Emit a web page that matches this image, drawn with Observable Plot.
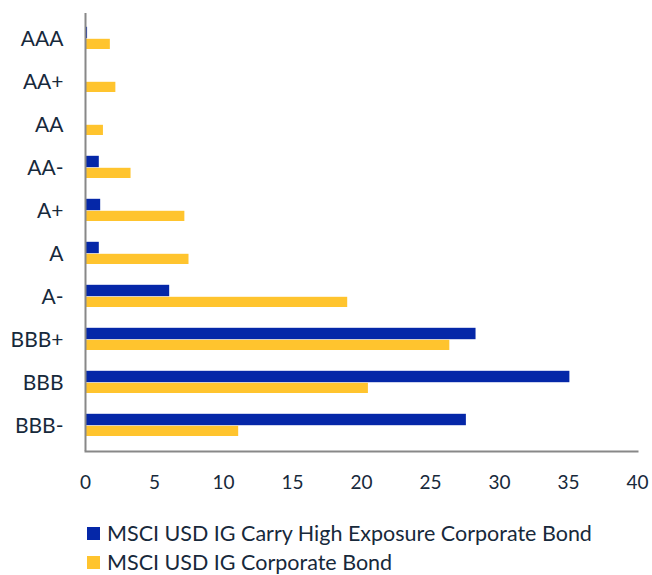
<!DOCTYPE html>
<html>
<head>
<meta charset="utf-8">
<script src="https://cdn.jsdelivr.net/npm/d3@7"></script>
<script src="https://cdn.jsdelivr.net/npm/@observablehq/plot@0.6"></script>
<style>
  body { margin: 0; background: #fff; font-family: Lato, "Open Sans", sans-serif; color: #17293b; }
  #chart svg { display: block; }
  #legend { margin-left: 87px; margin-top: 18px; font-size: 21.5px; line-height: 29px; }
  .item { display: flex; align-items: center; }
  .sw { width: 13px; height: 13px; margin-right: 7px; flex: none; }
</style>
</head>
<body>
<div id="chart"></div>
<div id="legend"></div>
<script>
const ratings = ["AAA", "AA+", "AA", "AA-", "A+", "A", "A-", "BBB+", "BBB", "BBB-"];
const carryHigh = [0.15, 0, 0, 1.0, 1.1, 1.0, 6.1, 28.3, 35.1, 27.6];
const corporate = [1.8, 2.2, 1.3, 3.3, 7.2, 7.5, 19.0, 26.4, 20.5, 11.1];
const seriesNames = ["MSCI USD IG Carry High Exposure Corporate Bond", "MSCI USD IG Corporate Bond"];
const colors = ["#0527a8", "#ffc42e"];
const xTicks = [0, 5, 10, 15, 20, 25, 30, 35, 40];

const blueData = ratings.map((r, i) => ({rating: r, value: carryHigh[i]}));
const yellowData = ratings.map((r, i) => ({rating: r, value: corporate[i]}));

const plot = Plot.plot({
  width: 652,
  height: 501,
  marginTop: 13,
  marginBottom: 50,
  marginLeft: 85,
  marginRight: 15,
  style: {fontFamily: "Lato, 'Open Sans', sans-serif", color: "#17293b", background: "#fff"},
  x: {domain: [0, 40]},
  y: {domain: ratings, padding: 0},
  marks: [
    Plot.barX(blueData, {y: "rating", x: "value", fill: colors[0], insetTop: 9.8, insetBottom: 21.8}),
    Plot.barX(yellowData, {y: "rating", x: "value", fill: colors[1], insetTop: 21.8, insetBottom: 11}),
    Plot.ruleX([0], {stroke: "#888", strokeWidth: 2}),
    Plot.frame({anchor: "bottom", stroke: "#888", strokeWidth: 2}),
    Plot.axisX(xTicks, {tickSize: 0, tickPadding: 24, fontSize: 19, label: null, fill: "#17293b"}),
    Plot.axisY({tickSize: 0, tickPadding: 22, fontSize: 21, label: null, fill: "#17293b"})
  ]
});
document.getElementById("chart").appendChild(plot);

const legend = document.getElementById("legend");
seriesNames.forEach((name, i) => {
  const item = document.createElement("div");
  item.className = "item";
  const sw = document.createElement("span");
  sw.className = "sw";
  sw.style.background = colors[i];
  const label = document.createElement("span");
  label.textContent = name;
  item.appendChild(sw);
  item.appendChild(label);
  legend.appendChild(item);
});
</script>
</body>
</html>
